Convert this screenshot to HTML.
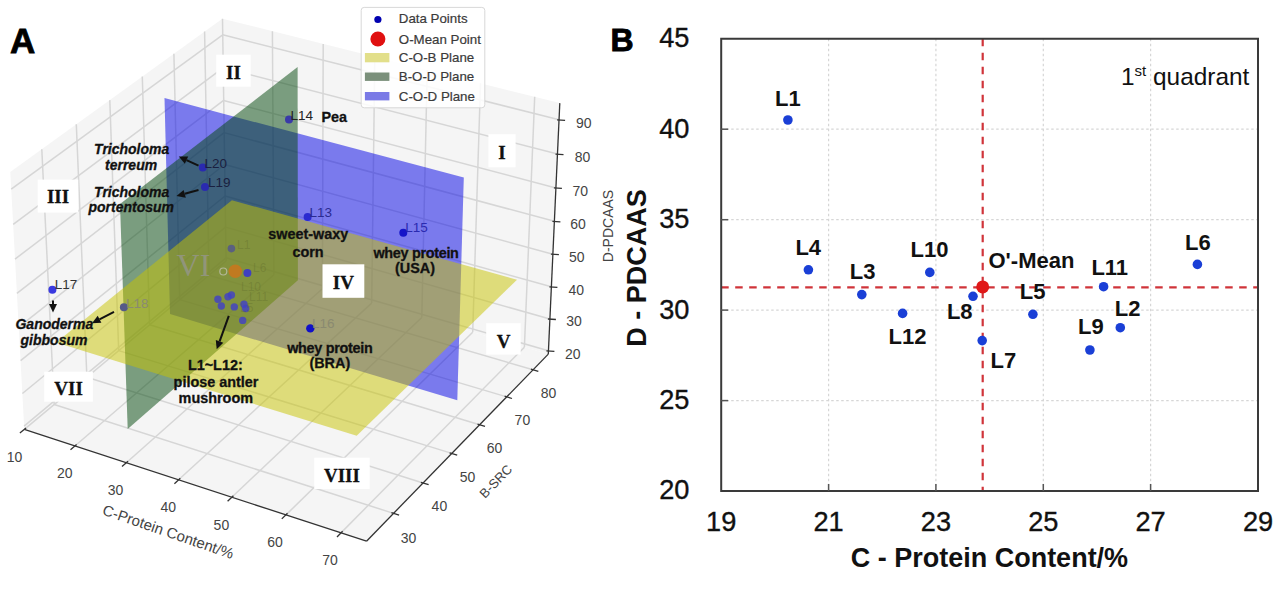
<!DOCTYPE html>
<html><head><meta charset="utf-8"><style>
html,body{margin:0;padding:0;background:#fff;}
body{width:1280px;height:592px;overflow:hidden;}
svg{display:block;}
</style></head><body>
<svg width="1280" height="592" viewBox="0 0 1280 592">
<rect width="1280" height="592" fill="#fff"/>
<polygon points="24.3,429.4 366.5,541.2 548.3,354.1 226.0,261.0" fill="#f5f5f5"/>
<polygon points="24.3,429.4 226.0,261.0 222.4,18.7 10.3,172.0" fill="#f5f5f5"/>
<polygon points="226.0,261.0 548.3,354.1 559.8,103.1 222.4,18.7" fill="#f5f5f5"/>
<g stroke="#d6d6d6" stroke-width="1.5"><line x1="24.4" y1="429.4" x2="226.1" y2="261.0" /><line x1="226.1" y1="261.0" x2="222.5" y2="18.7" /><line x1="74.9" y1="446.0" x2="273.9" y2="274.8" /><line x1="273.9" y1="274.8" x2="272.4" y2="31.2" /><line x1="126.3" y1="462.7" x2="322.4" y2="288.8" /><line x1="322.4" y1="288.8" x2="323.2" y2="43.9" /><line x1="178.6" y1="479.8" x2="371.7" y2="303.1" /><line x1="371.7" y1="303.1" x2="374.8" y2="56.8" /><line x1="231.8" y1="497.2" x2="421.8" y2="317.5" /><line x1="421.8" y1="317.5" x2="427.2" y2="69.9" /><line x1="286.0" y1="514.9" x2="472.7" y2="332.2" /><line x1="472.7" y1="332.2" x2="480.5" y2="83.3" /><line x1="341.0" y1="532.9" x2="524.4" y2="347.2" /><line x1="524.4" y1="347.2" x2="534.7" y2="96.8" /><line x1="54.2" y1="404.5" x2="393.6" y2="513.4" /><line x1="54.2" y1="404.5" x2="41.8" y2="149.2" /><line x1="86.9" y1="377.2" x2="423.1" y2="483.0" /><line x1="86.9" y1="377.2" x2="76.3" y2="124.3" /><line x1="118.7" y1="350.6" x2="451.8" y2="453.4" /><line x1="118.7" y1="350.6" x2="109.8" y2="100.1" /><line x1="149.6" y1="324.8" x2="479.6" y2="424.7" /><line x1="149.6" y1="324.8" x2="142.3" y2="76.6" /><line x1="179.7" y1="299.6" x2="506.7" y2="396.9" /><line x1="179.7" y1="299.6" x2="173.9" y2="53.8" /><line x1="209.0" y1="275.2" x2="533.0" y2="369.8" /><line x1="209.0" y1="275.2" x2="204.6" y2="31.6" /><line x1="24.1" y1="426.1" x2="226.0" y2="257.8" /><line x1="226.0" y1="257.8" x2="548.4" y2="350.8" /><line x1="22.4" y1="393.5" x2="225.5" y2="227.1" /><line x1="225.5" y1="227.1" x2="549.9" y2="319.0" /><line x1="20.6" y1="360.6" x2="225.1" y2="196.0" /><line x1="225.1" y1="196.0" x2="551.4" y2="286.8" /><line x1="18.7" y1="327.2" x2="224.6" y2="164.5" /><line x1="224.6" y1="164.5" x2="552.9" y2="254.2" /><line x1="16.9" y1="293.3" x2="224.1" y2="132.6" /><line x1="224.1" y1="132.6" x2="554.4" y2="221.3" /><line x1="15.0" y1="259.1" x2="223.6" y2="100.4" /><line x1="223.6" y1="100.4" x2="555.9" y2="187.9" /><line x1="13.2" y1="224.4" x2="223.1" y2="67.8" /><line x1="223.1" y1="67.8" x2="557.5" y2="154.1" /><line x1="11.2" y1="189.2" x2="222.7" y2="34.8" /><line x1="222.7" y1="34.8" x2="559.1" y2="119.8" /></g>
<g stroke="#333" stroke-width="1.3"><line x1="24.3" y1="429.4" x2="366.5" y2="541.2" /><line x1="366.5" y1="541.2" x2="548.3" y2="354.1" /><line x1="548.3" y1="354.1" x2="559.8" y2="103.1" /></g>
<g stroke="#333" stroke-width="1.3"><line x1="26.0" y1="428.0" x2="19.9" y2="433.1"/><line x1="76.6" y1="444.5" x2="70.5" y2="449.7"/><line x1="128.0" y1="461.3" x2="122.0" y2="466.6"/><line x1="180.3" y1="478.3" x2="174.4" y2="483.7"/><line x1="233.4" y1="495.7" x2="227.6" y2="501.2"/><line x1="287.5" y1="513.3" x2="281.8" y2="518.9"/><line x1="342.6" y1="531.3" x2="337.0" y2="537.0"/><line x1="391.4" y1="512.6" x2="399.1" y2="515.1"/><line x1="420.9" y1="482.3" x2="428.6" y2="484.7"/><line x1="449.6" y1="452.8" x2="457.2" y2="455.1"/><line x1="477.5" y1="424.1" x2="485.0" y2="426.4"/><line x1="504.6" y1="396.2" x2="512.0" y2="398.5"/><line x1="530.9" y1="369.1" x2="538.3" y2="371.3"/><line x1="546.4" y1="350.8" x2="554.4" y2="351.3"/><line x1="547.9" y1="319.0" x2="555.9" y2="319.5"/><line x1="549.4" y1="286.8" x2="557.4" y2="287.3"/><line x1="550.9" y1="254.2" x2="558.9" y2="254.7"/><line x1="552.4" y1="221.3" x2="560.4" y2="221.8"/><line x1="553.9" y1="187.9" x2="561.9" y2="188.4"/><line x1="555.5" y1="154.1" x2="563.5" y2="154.6"/><line x1="557.1" y1="119.8" x2="565.1" y2="120.3"/></g>
<text x="14.6" y="461.6" text-anchor="middle" style="font-family:'Liberation Sans',sans-serif;font-size:14px;fill:#444">10</text>
<text x="64.8" y="477.8" text-anchor="middle" style="font-family:'Liberation Sans',sans-serif;font-size:14px;fill:#444">20</text>
<text x="115.6" y="495.0" text-anchor="middle" style="font-family:'Liberation Sans',sans-serif;font-size:14px;fill:#444">30</text>
<text x="168.2" y="512.0" text-anchor="middle" style="font-family:'Liberation Sans',sans-serif;font-size:14px;fill:#444">40</text>
<text x="221.4" y="529.5" text-anchor="middle" style="font-family:'Liberation Sans',sans-serif;font-size:14px;fill:#444">50</text>
<text x="275.0" y="547.0" text-anchor="middle" style="font-family:'Liberation Sans',sans-serif;font-size:14px;fill:#444">60</text>
<text x="330.0" y="565.0" text-anchor="middle" style="font-family:'Liberation Sans',sans-serif;font-size:14px;fill:#444">70</text>
<text x="408.5" y="542.6" text-anchor="middle" style="font-family:'Liberation Sans',sans-serif;font-size:14px;fill:#444">30</text>
<text x="439.4" y="511.0" text-anchor="middle" style="font-family:'Liberation Sans',sans-serif;font-size:14px;fill:#444">40</text>
<text x="467.6" y="481.9" text-anchor="middle" style="font-family:'Liberation Sans',sans-serif;font-size:14px;fill:#444">50</text>
<text x="494.6" y="453.2" text-anchor="middle" style="font-family:'Liberation Sans',sans-serif;font-size:14px;fill:#444">60</text>
<text x="522.4" y="424.6" text-anchor="middle" style="font-family:'Liberation Sans',sans-serif;font-size:14px;fill:#444">70</text>
<text x="548.6" y="397.5" text-anchor="middle" style="font-family:'Liberation Sans',sans-serif;font-size:14px;fill:#444">80</text>
<text x="572.7" y="358.8" text-anchor="middle" style="font-family:'Liberation Sans',sans-serif;font-size:14px;fill:#444">20</text>
<text x="574.0" y="326.4" text-anchor="middle" style="font-family:'Liberation Sans',sans-serif;font-size:14px;fill:#444">30</text>
<text x="576.2" y="294.7" text-anchor="middle" style="font-family:'Liberation Sans',sans-serif;font-size:14px;fill:#444">40</text>
<text x="576.8" y="262.3" text-anchor="middle" style="font-family:'Liberation Sans',sans-serif;font-size:14px;fill:#444">50</text>
<text x="578.1" y="229.0" text-anchor="middle" style="font-family:'Liberation Sans',sans-serif;font-size:14px;fill:#444">60</text>
<text x="580.3" y="196.2" text-anchor="middle" style="font-family:'Liberation Sans',sans-serif;font-size:14px;fill:#444">70</text>
<text x="582.6" y="162.4" text-anchor="middle" style="font-family:'Liberation Sans',sans-serif;font-size:14px;fill:#444">80</text>
<text x="583.8" y="128.1" text-anchor="middle" style="font-family:'Liberation Sans',sans-serif;font-size:14px;fill:#444">90</text>
<text transform="translate(166.5,536.7) rotate(19)" text-anchor="middle" style="font-family:'Liberation Sans',sans-serif;font-size:14px;fill:#444;font-size:15px">C-Protein Content/%</text>
<text transform="translate(499,484.5) rotate(-46)" text-anchor="middle" style="font-family:'Liberation Sans',sans-serif;font-size:14px;fill:#444;font-size:13px">B-SRC</text>
<text transform="translate(613,226) rotate(-90)" text-anchor="middle" style="font-family:'Liberation Sans',sans-serif;font-size:14px;fill:#444">D-PDCAAS</text>
<polygon points="170.0,314.1 457.3,400.3 463.8,177.6 164.5,98.1" fill="rgb(0,0,230)" fill-opacity="0.5"/>
<polygon points="127.7,428.9 297.9,280.3 297.6,67.1 120.0,204.1" fill="rgb(0,70,10)" fill-opacity="0.5"/>
<polygon points="56.2,342.5 356.7,435.8 517.0,279.7 231.9,200.2" fill="rgb(200,196,0)" fill-opacity="0.5"/>
<text x="193.5" y="275.5" text-anchor="middle" style="font-family:'Liberation Serif',serif;font-size:32px;fill:rgb(150,150,140)" fill-opacity="0.8">VI</text>
<rect x="488.4" y="134.2" width="27.2" height="33.1" fill="#fff"/>
<text x="502.0" y="159" text-anchor="middle" style="font-family:'Liberation Serif',serif;font-weight:bold;font-size:19px;fill:#111;stroke:#111;stroke-width:0.3px">I</text>
<rect x="216.2" y="54.7" width="34.5" height="32.0" fill="#fff"/>
<text x="233.4" y="79" text-anchor="middle" style="font-family:'Liberation Serif',serif;font-weight:bold;font-size:19px;fill:#111;stroke:#111;stroke-width:0.3px">II</text>
<rect x="37.7" y="179.6" width="40.6" height="33.0" fill="#fff"/>
<text x="58.0" y="203.4" text-anchor="middle" style="font-family:'Liberation Serif',serif;font-weight:bold;font-size:19px;fill:#111;stroke:#111;stroke-width:0.3px">III</text>
<rect x="322.5" y="264.3" width="41.8" height="33.5" fill="#fff"/>
<text x="343.4" y="288.5" text-anchor="middle" style="font-family:'Liberation Serif',serif;font-weight:bold;font-size:19px;fill:#111;stroke:#111;stroke-width:0.3px">IV</text>
<rect x="486.2" y="323.2" width="34.5" height="31.4" fill="#fff"/>
<text x="503.5" y="348" text-anchor="middle" style="font-family:'Liberation Serif',serif;font-weight:bold;font-size:19px;fill:#111;stroke:#111;stroke-width:0.3px">V</text>
<rect x="44.2" y="371.7" width="48.7" height="30.0" fill="#fff"/>
<text x="68.6" y="395.1" text-anchor="middle" style="font-family:'Liberation Serif',serif;font-weight:bold;font-size:19px;fill:#111;stroke:#111;stroke-width:0.3px">VII</text>
<rect x="314.2" y="457.7" width="55.5" height="31.3" fill="#fff"/>
<text x="341.9" y="482" text-anchor="middle" style="font-family:'Liberation Serif',serif;font-weight:bold;font-size:19px;fill:#111;stroke:#111;stroke-width:0.3px">VIII</text>
<circle cx="289" cy="119.4" r="4" fill="#3a3aa8" fill-opacity="1"/>
<text x="290.5" y="120.3" style="font-family:'Liberation Sans',sans-serif;font-size:13.5px;fill:#222" fill-opacity="1">L14</text>
<circle cx="202.8" cy="167.6" r="4" fill="#2a2ab0" fill-opacity="1"/>
<text x="204.5" y="167.6" style="font-family:'Liberation Sans',sans-serif;font-size:13.5px;fill:#1a2040" fill-opacity="1">L20</text>
<circle cx="205" cy="187" r="4" fill="#2a2ab0" fill-opacity="1"/>
<text x="207.9" y="187" style="font-family:'Liberation Sans',sans-serif;font-size:13.5px;fill:#1a2040" fill-opacity="1">L19</text>
<circle cx="307.6" cy="217" r="4" fill="#2a2ad0" fill-opacity="1"/>
<text x="309.5" y="216.5" style="font-family:'Liberation Sans',sans-serif;font-size:13.5px;fill:#2a2a90" fill-opacity="1">L13</text>
<circle cx="403.3" cy="232.8" r="4" fill="#1515c8" fill-opacity="1"/>
<text x="405.2" y="232.3" style="font-family:'Liberation Sans',sans-serif;font-size:13.5px;fill:#2a2ab0" fill-opacity="1">L15</text>
<circle cx="52.4" cy="289.8" r="4" fill="#3a3ae0" fill-opacity="1"/>
<text x="54.7" y="289" style="font-family:'Liberation Sans',sans-serif;font-size:13.5px;fill:#333" fill-opacity="1">L17</text>
<circle cx="123.9" cy="307.2" r="4" fill="#555a88" fill-opacity="1"/>
<text x="126" y="308" style="font-family:'Liberation Sans',sans-serif;font-size:13.5px;fill:#8a8a70" fill-opacity="1">L18</text>
<circle cx="310.3" cy="328.4" r="4.2" fill="#1010c8" fill-opacity="1"/>
<text x="311.9" y="327.7" style="font-family:'Liberation Sans',sans-serif;font-size:13.5px;fill:#8a8a70" fill-opacity="1">L16</text>
<circle cx="231.4" cy="248.6" r="3.8" fill="#5a6080" fill-opacity="1"/>
<circle cx="235.3" cy="271.3" r="6.8" fill="#c07a20" fill-opacity="1"/>
<circle cx="247.4" cy="273.1" r="4" fill="#4040c0" fill-opacity="1"/>
<circle cx="231.4" cy="295" r="3.7" fill="#4040c8" fill-opacity="0.8"/>
<circle cx="217.9" cy="299.3" r="3.7" fill="#4040c8" fill-opacity="0.8"/>
<circle cx="221.3" cy="306" r="3.7" fill="#4040c8" fill-opacity="0.8"/>
<circle cx="234.3" cy="306.9" r="3.7" fill="#4040c8" fill-opacity="0.8"/>
<circle cx="244" cy="304.3" r="3.7" fill="#4040c8" fill-opacity="0.8"/>
<circle cx="245.7" cy="308.5" r="3.7" fill="#4040c8" fill-opacity="0.8"/>
<circle cx="242.7" cy="320.4" r="3.7" fill="#4040c8" fill-opacity="0.8"/>
<circle cx="228" cy="296.7" r="3.7" fill="#4040c8" fill-opacity="0.8"/>
<text x="237" y="249" style="font-family:'Liberation Sans',sans-serif;font-size:12px;fill:rgb(90,100,40)" fill-opacity="0.3">L1</text>
<text x="253" y="272" style="font-family:'Liberation Sans',sans-serif;font-size:12px;fill:rgb(90,100,40)" fill-opacity="0.3">L6</text>
<text x="241" y="291" style="font-family:'Liberation Sans',sans-serif;font-size:12px;fill:rgb(90,100,40)" fill-opacity="0.3">L10</text>
<text x="249" y="301" style="font-family:'Liberation Sans',sans-serif;font-size:12px;fill:rgb(90,100,40)" fill-opacity="0.3">L11</text>
<text x="240" y="312" style="font-family:'Liberation Sans',sans-serif;font-size:12px;fill:rgb(90,100,40)" fill-opacity="0.3">L5</text>
<circle cx="223.3" cy="271.5" r="3.5" fill="none" stroke="rgb(200,200,190)" stroke-width="1.2" stroke-opacity="0.7"/>
<text x="321.5" y="122" style="font-family:'Liberation Sans',sans-serif;font-weight:bold;font-size:14.4px;fill:#111;stroke:#111;stroke-width:0.3px">Pea</text>
<text x="131.7" y="153.6" text-anchor="middle" style="font-family:'Liberation Sans',sans-serif;font-weight:bold;font-size:14.4px;fill:#111;stroke:#111;stroke-width:0.3px;font-style:italic;font-size:14px">Tricholoma</text>
<text x="131.1" y="169.5" text-anchor="middle" style="font-family:'Liberation Sans',sans-serif;font-weight:bold;font-size:14.4px;fill:#111;stroke:#111;stroke-width:0.3px;font-style:italic;font-size:14px">terreum</text>
<text x="131.7" y="196.9" text-anchor="middle" style="font-family:'Liberation Sans',sans-serif;font-weight:bold;font-size:14.4px;fill:#111;stroke:#111;stroke-width:0.3px;font-style:italic;font-size:14px">Tricholoma</text>
<text x="131.3" y="212" text-anchor="middle" style="font-family:'Liberation Sans',sans-serif;font-weight:bold;font-size:14.4px;fill:#111;stroke:#111;stroke-width:0.3px;font-style:italic;font-size:14px">portentosum</text>
<text x="54.4" y="329" text-anchor="middle" style="font-family:'Liberation Sans',sans-serif;font-weight:bold;font-size:14.4px;fill:#111;stroke:#111;stroke-width:0.3px;font-style:italic;font-size:14px">Ganoderma</text>
<text x="54" y="344.5" text-anchor="middle" style="font-family:'Liberation Sans',sans-serif;font-weight:bold;font-size:14.4px;fill:#111;stroke:#111;stroke-width:0.3px;font-style:italic;font-size:14px">gibbosum</text>
<text x="215.3" y="369.7" text-anchor="middle" style="font-family:'Liberation Sans',sans-serif;font-weight:bold;font-size:14.4px;fill:#111;stroke:#111;stroke-width:0.3px">L1~L12:</text>
<text x="216" y="387.4" text-anchor="middle" style="font-family:'Liberation Sans',sans-serif;font-weight:bold;font-size:14.4px;fill:#111;stroke:#111;stroke-width:0.3px">pilose antler</text>
<text x="215.8" y="403.2" text-anchor="middle" style="font-family:'Liberation Sans',sans-serif;font-weight:bold;font-size:14.4px;fill:#111;stroke:#111;stroke-width:0.3px">mushroom</text>
<text x="308.2" y="239" text-anchor="middle" style="font-family:'Liberation Sans',sans-serif;font-weight:bold;font-size:14.4px;fill:#111;stroke:#111;stroke-width:0.3px">sweet-waxy</text>
<text x="308" y="256.5" text-anchor="middle" style="font-family:'Liberation Sans',sans-serif;font-weight:bold;font-size:14.4px;fill:#111;stroke:#111;stroke-width:0.3px">corn</text>
<text x="416" y="257.5" text-anchor="middle" style="font-family:'Liberation Sans',sans-serif;font-weight:bold;font-size:14.4px;fill:#111;stroke:#111;stroke-width:0.3px;letter-spacing:-0.3px">whey protein</text>
<text x="415" y="273" text-anchor="middle" style="font-family:'Liberation Sans',sans-serif;font-weight:bold;font-size:14.4px;fill:#111;stroke:#111;stroke-width:0.3px">(USA)</text>
<text x="329.8" y="352.5" text-anchor="middle" style="font-family:'Liberation Sans',sans-serif;font-weight:bold;font-size:14.4px;fill:#111;stroke:#111;stroke-width:0.3px;letter-spacing:-0.3px">whey protein</text>
<text x="329.8" y="367.5" text-anchor="middle" style="font-family:'Liberation Sans',sans-serif;font-weight:bold;font-size:14.4px;fill:#111;stroke:#111;stroke-width:0.3px">(BRA)</text>
<line x1="198.5" y1="165.7" x2="186.5" y2="160.2" stroke="#111" stroke-width="2"/>
<polygon points="178.8,156.6 188.2,156.5 184.8,163.8" fill="#111"/>
<line x1="198.5" y1="190" x2="184.7" y2="193.8" stroke="#111" stroke-width="2"/>
<polygon points="176.5,196.1 183.6,190.0 185.8,197.7" fill="#111"/>
<line x1="53" y1="300.4" x2="53.0" y2="304.0" stroke="#111" stroke-width="2"/>
<polygon points="53.0,312.5 49.0,304.0 57.0,304.0" fill="#111"/>
<line x1="114" y1="311.8" x2="99.5" y2="319.3" stroke="#111" stroke-width="2"/>
<polygon points="92.0,323.2 97.7,315.7 101.4,322.8" fill="#111"/>
<line x1="228.8" y1="315.8" x2="219.6" y2="341.3" stroke="#111" stroke-width="2"/>
<polygon points="216.7,349.3 215.8,339.9 223.3,342.7" fill="#111"/>
<rect x="361.2" y="7.4" width="123.6" height="100.4" rx="3" fill="#fff" fill-opacity="0.85" stroke="#d8d8d8" stroke-width="1"/>
<circle cx="377.9" cy="19.5" r="3.6" fill="#0000b0"/>
<circle cx="377.9" cy="39" r="7.5" fill="#e01010"/>
<rect x="364.9" y="53" width="24.5" height="9.3" fill="#e2df8a"/>
<rect x="364.9" y="72.5" width="24.5" height="8.4" fill="#7b907b"/>
<rect x="364.9" y="92" width="24.5" height="8.4" fill="#7a7ae6"/>
<text x="398.8" y="23.4" style="font-family:'Liberation Sans',sans-serif;font-size:13.3px;fill:#3a3a3a;stroke:#3a3a3a;stroke-width:0.2px">Data Points</text>
<text x="398.8" y="43.8" style="font-family:'Liberation Sans',sans-serif;font-size:13.3px;fill:#3a3a3a;stroke:#3a3a3a;stroke-width:0.2px">O-Mean Point</text>
<text x="398.8" y="62.4" style="font-family:'Liberation Sans',sans-serif;font-size:13.3px;fill:#3a3a3a;stroke:#3a3a3a;stroke-width:0.2px">C-O-B Plane</text>
<text x="398.8" y="81.0" style="font-family:'Liberation Sans',sans-serif;font-size:13.3px;fill:#3a3a3a;stroke:#3a3a3a;stroke-width:0.2px">B-O-D Plane</text>
<text x="398.8" y="100.5" style="font-family:'Liberation Sans',sans-serif;font-size:13.3px;fill:#3a3a3a;stroke:#3a3a3a;stroke-width:0.2px">C-O-D Plane</text>
<text x="10" y="52.7" style="font-family:'Liberation Sans',sans-serif;font-weight:bold;font-size:35px;fill:#000;stroke:#000;stroke-width:0.8px">A</text>
<g stroke="#d6d6d6" stroke-width="1.2" stroke-dasharray="2.5,2.5"><line x1="828.6" y1="38.8" x2="828.6" y2="491"/><line x1="935.9" y1="38.8" x2="935.9" y2="491"/><line x1="1043.3" y1="38.8" x2="1043.3" y2="491"/><line x1="1150.6" y1="38.8" x2="1150.6" y2="491"/><line x1="721.2" y1="400.6" x2="1258" y2="400.6"/><line x1="721.2" y1="310.1" x2="1258" y2="310.1"/><line x1="721.2" y1="219.7" x2="1258" y2="219.7"/><line x1="721.2" y1="129.2" x2="1258" y2="129.2"/></g>
<line x1="721.2" y1="287.3" x2="1258" y2="287.3" stroke="#d0343a" stroke-width="2.2" stroke-dasharray="7.5,6.5"/>
<line x1="982.7" y1="38.8" x2="982.7" y2="491" stroke="#d0343a" stroke-width="2.2" stroke-dasharray="7.5,6.5"/>
<path d="M721.2,38.8 H1258 V491 H721.2 Z" fill="none" stroke="#3a3a3a" stroke-width="2"/>
<g stroke="#555" stroke-width="1.5"><line x1="828.6" y1="491" x2="828.6" y2="484"/><line x1="935.9" y1="491" x2="935.9" y2="484"/><line x1="1043.3" y1="491" x2="1043.3" y2="484"/><line x1="1150.6" y1="491" x2="1150.6" y2="484"/><line x1="721.2" y1="400.6" x2="728.2" y2="400.6"/><line x1="721.2" y1="310.1" x2="728.2" y2="310.1"/><line x1="721.2" y1="219.7" x2="728.2" y2="219.7"/><line x1="721.2" y1="129.2" x2="728.2" y2="129.2"/></g>
<text x="689.5" y="499.4" text-anchor="end" style="font-family:'Liberation Sans',sans-serif;font-size:27.2px;fill:#111;stroke:#111;stroke-width:0.35px">20</text>
<text x="689.5" y="409.0" text-anchor="end" style="font-family:'Liberation Sans',sans-serif;font-size:27.2px;fill:#111;stroke:#111;stroke-width:0.35px">25</text>
<text x="689.5" y="318.5" text-anchor="end" style="font-family:'Liberation Sans',sans-serif;font-size:27.2px;fill:#111;stroke:#111;stroke-width:0.35px">30</text>
<text x="689.5" y="228.1" text-anchor="end" style="font-family:'Liberation Sans',sans-serif;font-size:27.2px;fill:#111;stroke:#111;stroke-width:0.35px">35</text>
<text x="689.5" y="137.6" text-anchor="end" style="font-family:'Liberation Sans',sans-serif;font-size:27.2px;fill:#111;stroke:#111;stroke-width:0.35px">40</text>
<text x="689.5" y="47.2" text-anchor="end" style="font-family:'Liberation Sans',sans-serif;font-size:27.2px;fill:#111;stroke:#111;stroke-width:0.35px">45</text>
<text x="721.2" y="531.3" text-anchor="middle" style="font-family:'Liberation Sans',sans-serif;font-size:27.2px;fill:#111;stroke:#111;stroke-width:0.35px">19</text>
<text x="828.6" y="531.3" text-anchor="middle" style="font-family:'Liberation Sans',sans-serif;font-size:27.2px;fill:#111;stroke:#111;stroke-width:0.35px">21</text>
<text x="935.9" y="531.3" text-anchor="middle" style="font-family:'Liberation Sans',sans-serif;font-size:27.2px;fill:#111;stroke:#111;stroke-width:0.35px">23</text>
<text x="1043.3" y="531.3" text-anchor="middle" style="font-family:'Liberation Sans',sans-serif;font-size:27.2px;fill:#111;stroke:#111;stroke-width:0.35px">25</text>
<text x="1150.6" y="531.3" text-anchor="middle" style="font-family:'Liberation Sans',sans-serif;font-size:27.2px;fill:#111;stroke:#111;stroke-width:0.35px">27</text>
<text x="1258.0" y="531.3" text-anchor="middle" style="font-family:'Liberation Sans',sans-serif;font-size:27.2px;fill:#111;stroke:#111;stroke-width:0.35px">29</text>
<text x="989.4" y="567.3" text-anchor="middle" style="font-family:'Liberation Sans',sans-serif;font-weight:bold;font-size:27px;fill:#111">C - Protein Content/%</text>
<text transform="translate(645.6,268) rotate(-90)" text-anchor="middle" style="font-family:'Liberation Sans',sans-serif;font-weight:bold;font-size:27px;fill:#111">D - PDCAAS</text>
<text x="610.5" y="50.8" style="font-family:'Liberation Sans',sans-serif;font-weight:bold;font-size:32px;fill:#000;stroke:#000;stroke-width:0.9px">B</text>
<text x="1121" y="84.5" style="font-family:'Liberation Sans',sans-serif;font-size:24.4px;fill:#111">1<tspan dy="-9" font-size="15">st</tspan><tspan dy="9"> quadrant</tspan></text>
<circle cx="787.9" cy="120" r="4.8" fill="#1a3fd6"/>
<circle cx="808.4" cy="269.8" r="4.8" fill="#1a3fd6"/>
<circle cx="861.8" cy="294.6" r="4.8" fill="#1a3fd6"/>
<circle cx="929.8" cy="272.4" r="4.8" fill="#1a3fd6"/>
<circle cx="902.6" cy="313.4" r="4.8" fill="#1a3fd6"/>
<circle cx="973" cy="296.3" r="4.8" fill="#1a3fd6"/>
<circle cx="1032.9" cy="314.3" r="4.8" fill="#1a3fd6"/>
<circle cx="982.2" cy="340.6" r="4.8" fill="#1a3fd6"/>
<circle cx="1197.4" cy="264.4" r="4.8" fill="#1a3fd6"/>
<circle cx="1103.6" cy="286.7" r="4.8" fill="#1a3fd6"/>
<circle cx="1120.3" cy="327.7" r="4.8" fill="#1a3fd6"/>
<circle cx="1089.9" cy="350" r="4.8" fill="#1a3fd6"/>
<circle cx="982.7" cy="286.9" r="6.5" fill="#e01818"/>
<text x="775.1" y="106.3" style="font-family:'Liberation Sans',sans-serif;font-weight:bold;font-size:22px;fill:#111">L1</text>
<text x="795.4" y="254.7" style="font-family:'Liberation Sans',sans-serif;font-weight:bold;font-size:22px;fill:#111">L4</text>
<text x="849.7" y="278.6" style="font-family:'Liberation Sans',sans-serif;font-weight:bold;font-size:22px;fill:#111">L3</text>
<text x="910.6" y="257.3" style="font-family:'Liberation Sans',sans-serif;font-weight:bold;font-size:22px;fill:#111">L10</text>
<text x="988.5" y="267.9" style="font-family:'Liberation Sans',sans-serif;font-weight:bold;font-size:22px;fill:#111">O'-Mean</text>
<text x="1019.7" y="299.0" style="font-family:'Liberation Sans',sans-serif;font-weight:bold;font-size:22px;fill:#111">L5</text>
<text x="946.9" y="319.1" style="font-family:'Liberation Sans',sans-serif;font-weight:bold;font-size:22px;fill:#111">L8</text>
<text x="888.6" y="343.9" style="font-family:'Liberation Sans',sans-serif;font-weight:bold;font-size:22px;fill:#111">L12</text>
<text x="990.5" y="368.0" style="font-family:'Liberation Sans',sans-serif;font-weight:bold;font-size:22px;fill:#111">L7</text>
<text x="1185.0" y="249.7" style="font-family:'Liberation Sans',sans-serif;font-weight:bold;font-size:22px;fill:#111">L6</text>
<text x="1091.4" y="274.5" style="font-family:'Liberation Sans',sans-serif;font-weight:bold;font-size:22px;fill:#111">L11</text>
<text x="1114.8" y="316.3" style="font-family:'Liberation Sans',sans-serif;font-weight:bold;font-size:22px;fill:#111">L2</text>
<text x="1078.0" y="334.0" style="font-family:'Liberation Sans',sans-serif;font-weight:bold;font-size:22px;fill:#111">L9</text>
</svg></body></html>
